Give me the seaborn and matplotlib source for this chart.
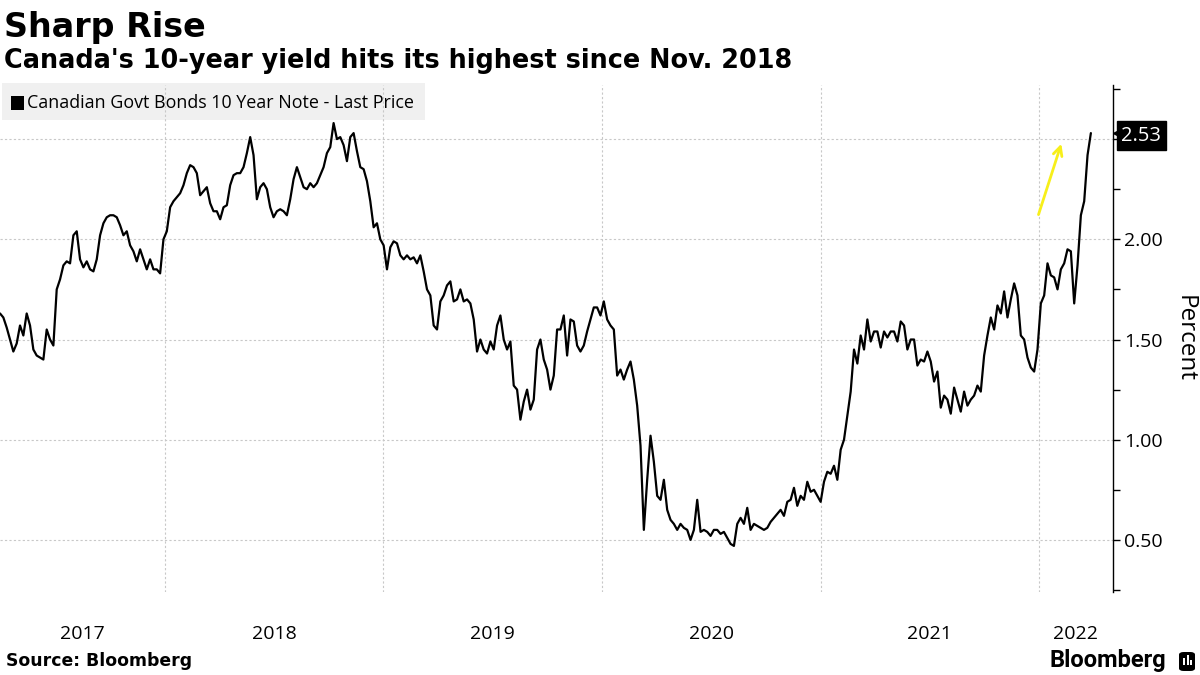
import pandas as pd
import numpy as np
import matplotlib.pyplot as plt
import matplotlib.dates as mdates
import matplotlib.patches as mpatches
import matplotlib.transforms as mtransforms
from matplotlib.ticker import MultipleLocator, FuncFormatter
import seaborn as sns

# data (roughly every 5-6 days)
start_date = "2017-03-31"
end_date = "2022-03-29"
yields = [
    1.63, 1.61, 1.56, 1.50, 1.44, 1.48, 1.57, 1.52, 1.63, 1.57,
    1.45, 1.42, 1.41, 1.40, 1.55, 1.50, 1.47, 1.75, 1.80, 1.87,
    1.89, 1.88, 2.02, 2.04, 1.90, 1.86, 1.89, 1.85, 1.84, 1.90,
    2.02, 2.08, 2.11, 2.12, 2.12, 2.11, 2.07, 2.02, 2.04, 1.97,
    1.94, 1.89, 1.95, 1.90, 1.85, 1.90, 1.85, 1.85, 1.83, 2.00,
    2.04, 2.16, 2.19, 2.21, 2.23, 2.27, 2.33, 2.37, 2.36, 2.33,
    2.22, 2.24, 2.26, 2.18, 2.14, 2.14, 2.10, 2.16, 2.17, 2.27,
    2.32, 2.33, 2.33, 2.36, 2.43, 2.51, 2.42, 2.20, 2.26, 2.28,
    2.25, 2.16, 2.11, 2.14, 2.15, 2.14, 2.12, 2.20, 2.30, 2.36,
    2.31, 2.26, 2.25, 2.28, 2.26, 2.28, 2.32, 2.36, 2.43, 2.46,
    2.58, 2.50, 2.51, 2.47, 2.39, 2.51, 2.53, 2.44, 2.36, 2.35,
    2.29, 2.19, 2.06, 2.08, 2.00, 1.97, 1.85, 1.96, 1.99, 1.98,
    1.92, 1.90, 1.92, 1.90, 1.91, 1.88, 1.92, 1.84, 1.75, 1.72,
    1.57, 1.55, 1.69, 1.72, 1.77, 1.79, 1.69, 1.70, 1.75, 1.69,
    1.70, 1.68, 1.60, 1.44, 1.50, 1.45, 1.43, 1.49, 1.45, 1.57,
    1.62, 1.50, 1.45, 1.49, 1.27, 1.25, 1.10, 1.19, 1.25, 1.15,
    1.20, 1.45, 1.50, 1.40, 1.35, 1.25, 1.32, 1.55, 1.55, 1.62,
    1.42, 1.60, 1.59, 1.47, 1.44, 1.47, 1.54, 1.60, 1.66, 1.66,
    1.62, 1.69, 1.60, 1.57, 1.55, 1.32, 1.35, 1.30, 1.35, 1.39,
    1.30, 1.17, 0.97, 0.55, 0.80, 1.02, 0.89, 0.72, 0.70, 0.80,
    0.65, 0.60, 0.58, 0.55, 0.58, 0.56, 0.55, 0.50, 0.55, 0.70,
    0.54, 0.55, 0.54, 0.52, 0.55, 0.55, 0.53, 0.54, 0.51, 0.48,
    0.47, 0.58, 0.61, 0.58, 0.66, 0.55, 0.58, 0.57, 0.56, 0.55,
    0.56, 0.59, 0.61, 0.63, 0.65, 0.62, 0.69, 0.70, 0.76, 0.67,
    0.72, 0.70, 0.79, 0.74, 0.75, 0.72, 0.69, 0.79, 0.84, 0.83,
    0.87, 0.80, 0.95, 1.00, 1.12, 1.24, 1.45, 1.38, 1.52, 1.45,
    1.60, 1.49, 1.54, 1.54, 1.46, 1.54, 1.51, 1.54, 1.54, 1.49,
    1.59, 1.57, 1.45, 1.50, 1.50, 1.37, 1.40, 1.39, 1.44, 1.39,
    1.29, 1.34, 1.16, 1.22, 1.20, 1.13, 1.26, 1.20, 1.14, 1.24,
    1.17, 1.20, 1.22, 1.27, 1.24, 1.42, 1.52, 1.61, 1.55, 1.67,
    1.63, 1.74, 1.61, 1.70, 1.78, 1.72, 1.52, 1.50, 1.41, 1.36,
    1.34, 1.45, 1.68, 1.72, 1.88, 1.82, 1.81, 1.75, 1.85, 1.88,
    1.95, 1.94, 1.68, 1.87, 2.12, 2.19, 2.42, 2.53,
]
year_labels = ["2017", "2018", "2019", "2020", "2021", "2022"]
last_value = 2.53
x_limits = ("2017-03-31", "2022-05-05")
y_limits = (0.24, 2.77)
arrow_start = ("2021-12-30", 2.11)
arrow_end = ("2022-02-09", 2.49)

sns.set_style("white")
plt.rcParams['font.family'] = ['Open Sans', 'DejaVu Sans']
plt.rcParams.update({"text.color": "black", "axes.labelcolor": "black",
                     "xtick.color": "black", "ytick.color": "black"})

df = pd.DataFrame({
    "date": pd.date_range(start_date, end_date, periods=len(yields)),
    "yield": yields,
})

fig = plt.figure(figsize=(12, 6.75), dpi=100)
ax = fig.add_axes([0.0, 1 - 592 / 675, 1113 / 1200, (592 - 85) / 675])
ax.set_facecolor("none")

sns.lineplot(data=df, x="date", y="yield", ax=ax, color="black", linewidth=1.6)

xmin, xmax = mdates.date2num(pd.to_datetime(list(x_limits)))
ax.set_xlim(xmin, xmax)
ax.set_ylim(*y_limits)
ax.set_xlabel("")

# spines / y axis on the right
for side in ["top", "left", "bottom"]:
    ax.spines[side].set_visible(False)
ax.spines["right"].set_color("black")
ax.spines["right"].set_linewidth(1)
ax.yaxis.tick_right()
ax.yaxis.set_label_position("right")
ax.yaxis.set_major_locator(MultipleLocator(0.5))
ax.yaxis.set_minor_locator(MultipleLocator(0.25))
# the 2.50 label sits under the last-value tag, so leave it out
ax.yaxis.set_major_formatter(FuncFormatter(lambda v, p: "" if abs(v - 2.5) < 1e-6 else f"{v:.2f}"))
ax.tick_params(axis="y", which="both", right=True, length=5, width=1,
               direction="out", color="black", labelsize=14, pad=3)
ax.set_ylabel("Percent", rotation=270, va="bottom", fontsize=17.5, labelpad=7)

# x axis: gridlines on Jan 1, year labels centred in each visible year
ax.xaxis.set_major_locator(mdates.YearLocator())
ax.xaxis.set_major_formatter(plt.NullFormatter())
mids = []
for lab in year_labels:
    a = max(mdates.date2num(pd.Timestamp(f"{lab}-01-01")), xmin)
    b = min(mdates.date2num(pd.Timestamp(f"{int(lab) + 1}-01-01")), xmax)
    mids.append((a + b) / 2)
ax.set_xticks(mids, labels=year_labels, minor=True)
ax.tick_params(axis="x", which="both", length=0, labelsize=14, pad=24)

ax.set_axisbelow(True)
ax.grid(axis="y", which="major", linestyle=(0, (2, 2)), color="#c8c8c8", linewidth=0.8)
ax.grid(axis="x", which="major", linestyle=(0, (2, 2)), color="#c8c8c8", linewidth=0.8)

# last value tag
blend = mtransforms.blended_transform_factory(ax.transAxes, ax.transData)
ax.plot([1.006], [last_value], marker="<", markersize=10, color="black",
        transform=blend, clip_on=False, zorder=6)
ax.annotate(f"{last_value:.2f}", xy=(1.0, last_value), xycoords=blend,
            xytext=(6, -2), textcoords="offset points", ha="left", va="center",
            color="white", fontsize=14.5, zorder=7, annotation_clip=False,
            bbox=dict(boxstyle="square,pad=0.22", fc="black", ec="black"))

# yellow arrow
ax.annotate("", xy=(mdates.date2num(pd.Timestamp(arrow_end[0])), arrow_end[1]),
            xytext=(mdates.date2num(pd.Timestamp(arrow_start[0])), arrow_start[1]),
            arrowprops=dict(arrowstyle="->", color="#f7ef1a", lw=2, mutation_scale=16))

# legend box
fig.add_artist(mpatches.Rectangle((2 / 1200, 1 - 120 / 675), 423 / 1200, 37 / 675,
                                  transform=fig.transFigure, fc="#f0f0f0", ec="none", zorder=-1))
fig.add_artist(mpatches.Rectangle((11 / 1200, 1 - 110 / 675), 13 / 1200, 14 / 675,
                                  transform=fig.transFigure, fc="black", ec="none", zorder=-1))
fig.text(27 / 1200, 1 - 103 / 675, "Canadian Govt Bonds 10 Year Note - Last Price",
         fontsize=12.9, va="center", ha="left", zorder=-1)

# titles
fig.text(4 / 1200, 1 - 37 / 675, "Sharp Rise", fontsize=24, fontweight="bold",
         family="DejaVu Sans", va="baseline")
fig.text(4 / 1200, 1 - 68 / 675, "Canada's 10-year yield hits its highest since Nov. 2018",
         fontsize=18.4, fontweight="bold", family="DejaVu Sans", va="baseline")

# footer
fig.text(6 / 1200, 1 - 661 / 675, "Source: Bloomberg", fontsize=12.4, fontweight="bold",
         family="DejaVu Sans", va="center")
fig.text(1166 / 1200, 1 - 661 / 675, "Bloomberg", fontsize=17, fontweight="bold",
         family="Roboto", va="center", ha="right")
fig.add_artist(mpatches.FancyBboxPatch((1179 / 1200, 1 - 671 / 675), 16 / 1200, 19 / 675,
                                       boxstyle="round,pad=0,rounding_size=0.004",
                                       transform=fig.transFigure, fc="black", ec="none"))
for bx, bh in [(1183, 7), (1186.5, 10), (1190, 5)]:
    fig.add_artist(mpatches.Rectangle((bx / 1200, 1 - 665 / 675), 2 / 1200, bh / 675,
                                      transform=fig.transFigure, fc="white", ec="none"))

fig.savefig("out.png", dpi=100)
